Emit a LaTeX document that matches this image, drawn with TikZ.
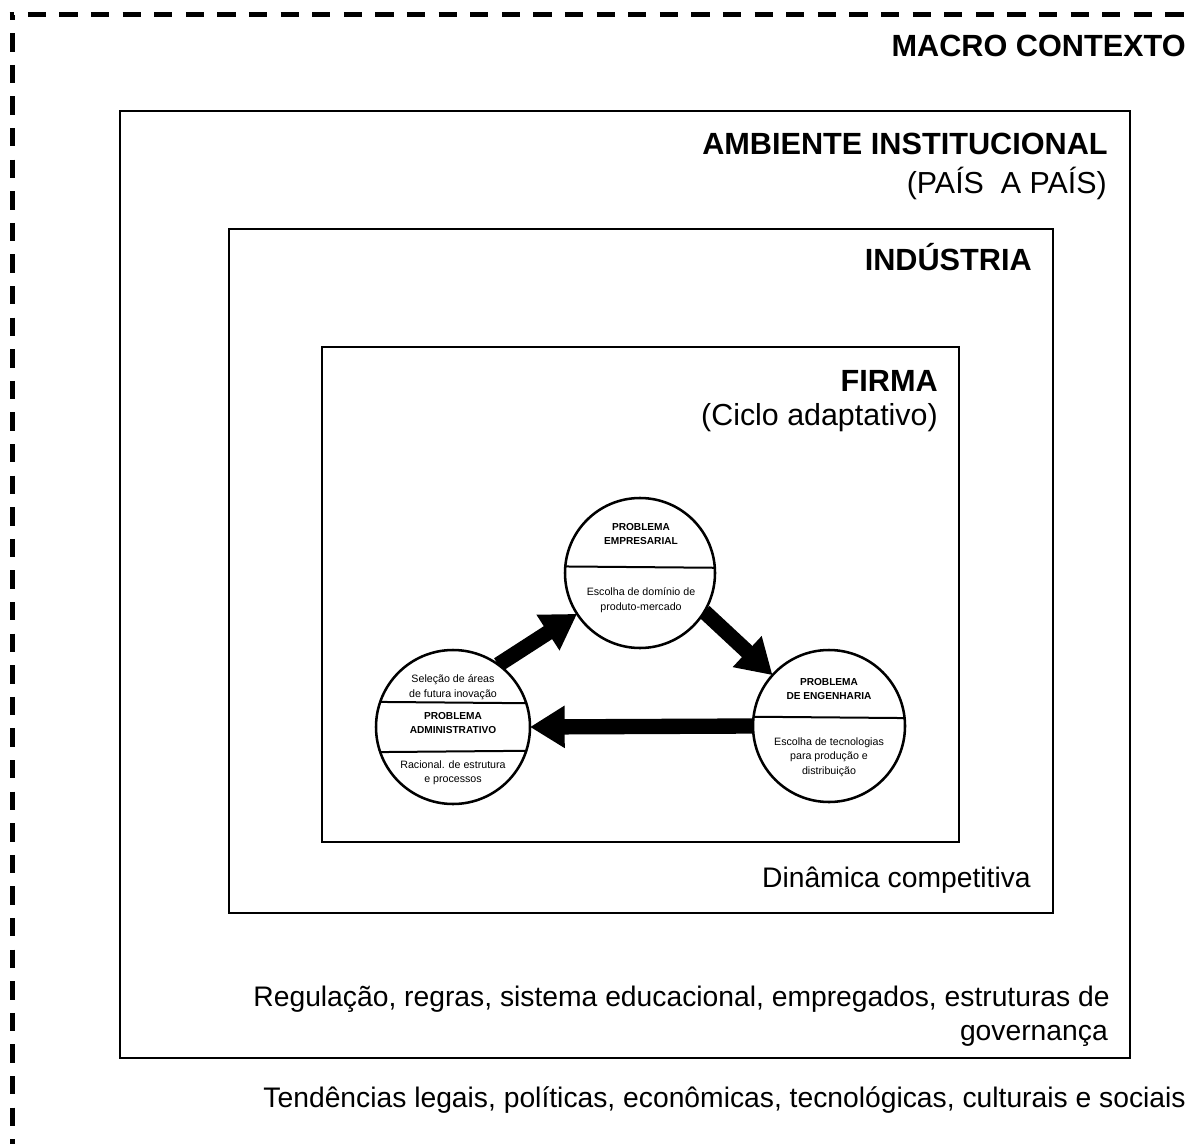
\documentclass[tikz,border=0pt]{standalone}
\usepackage{fontspec}
\setmainfont{Liberation Sans}
\usetikzlibrary{arrows.meta,backgrounds}
\begin{document}
\begin{tikzpicture}[x=0.75pt,y=-0.75pt,
  frame/.style={draw=black,line width=1.5pt},
  title/.style={font=\fontsize{23}{27}\selectfont\bfseries,inner sep=0pt,anchor=base east},
  subtitle/.style={font=\fontsize{22.8}{27}\selectfont,inner sep=0pt,anchor=base east},
  note/.style={font=\fontsize{21.2}{25.5}\selectfont,inner sep=0pt,anchor=base east},
  stage/.style={circle,draw=black,line width=1.9pt,fill=white,inner sep=0pt,outer sep=0pt},
  divider/.style={line width=1.5pt},
  head/.style={font=\fontsize{7.6}{10.5}\selectfont\bfseries,align=center,inner sep=0pt},
  body/.style={font=\fontsize{8}{10.8}\selectfont,align=center,inner sep=0pt},
  flow/.style={line width=11.5pt,-{Triangle[length=26pt,width=30pt]}}]

\useasboundingbox (0,0) rectangle (1201,1144);

% dashed macro-context border (top and left only)
\draw[line width=3.75pt,dash pattern=on 13.7pt off 10pt,dash phase=10pt]
  (9.5,15) -- (1190,15);
\draw[line width=3.75pt,dash pattern=on 13.7pt off 10pt,dash phase=10pt]
  (12,15) -- (12,1144);
\node[title] (macro) at (1186,57) {MACRO CONTEXTO};

% nested frames
\draw[frame] (120,111) rectangle (1130,1058);
\draw[frame] (229,229) rectangle (1053,913);
\draw[frame] (322,347) rectangle (959,842);

\node[title] (amb) at (1108,155) {AMBIENTE INSTITUCIONAL};
\node[subtitle] (pais) at (1107,194) {(PAÍS\ \ A PAÍS)};
\node[title] (ind) at (1032,271) {INDÚSTRIA};
\node[title] (firma) at (938,391) {FIRMA};
\node[subtitle] (ciclo) at (938,425) {(Ciclo adaptativo)};
\node[note] (din) at (1031,887) {Dinâmica competitiva};
\node[note] (reg1) at (1110,1006) {Regulação, regras, sistema educacional, empregados, estruturas de};
\node[note] (reg2) at (1108,1040) {governança};
\node[note] (tend) at (1186,1107) {Tendências legais, políticas, econômicas, tecnológicas, culturais e sociais};

% adaptive cycle
\node[stage,minimum size=112.5pt] (T) at (640,573) {};
\node[stage,minimum size=114pt] (R) at (829,726) {};
\node[stage,minimum size=115.5pt] (L) at (453,727) {};

\begin{scope}[on background layer]
  \draw[flow] (L.54) -- (T.213);
  \draw[flow] (T.-31) -- (R.138.7);
  \draw[flow] (R.180) -- (L.0);
\end{scope}

\draw[divider] (T.175.4) -- (T.4.6);
\draw[divider] (R.173.2) -- (R.6.8);
\draw[divider] (L.161.1) -- (L.18.9);
\draw[divider] (L.-161.1) -- (L.-18.9);

\node[head] (thead) at (641,534) {PROBLEMA\\EMPRESARIAL};
\node[body] (tbody) at (641,600) {Escolha de domínio de\\produto-mercado};
\node[head] (rhead) at (829,689) {PROBLEMA\\DE ENGENHARIA};
\node[body] (rbody) at (829,757) {Escolha de tecnologias\\para produção e\\distribuição};
\node[body] (ltop) at (453,687) {Seleção de áreas\\de futura inovação};
\node[head] (lhead) at (453,723) {PROBLEMA\\ADMINISTRATIVO};
\node[body] (lbody) at (453,773) {Racional. de estrutura\\e processos};
\end{tikzpicture}
\end{document}
